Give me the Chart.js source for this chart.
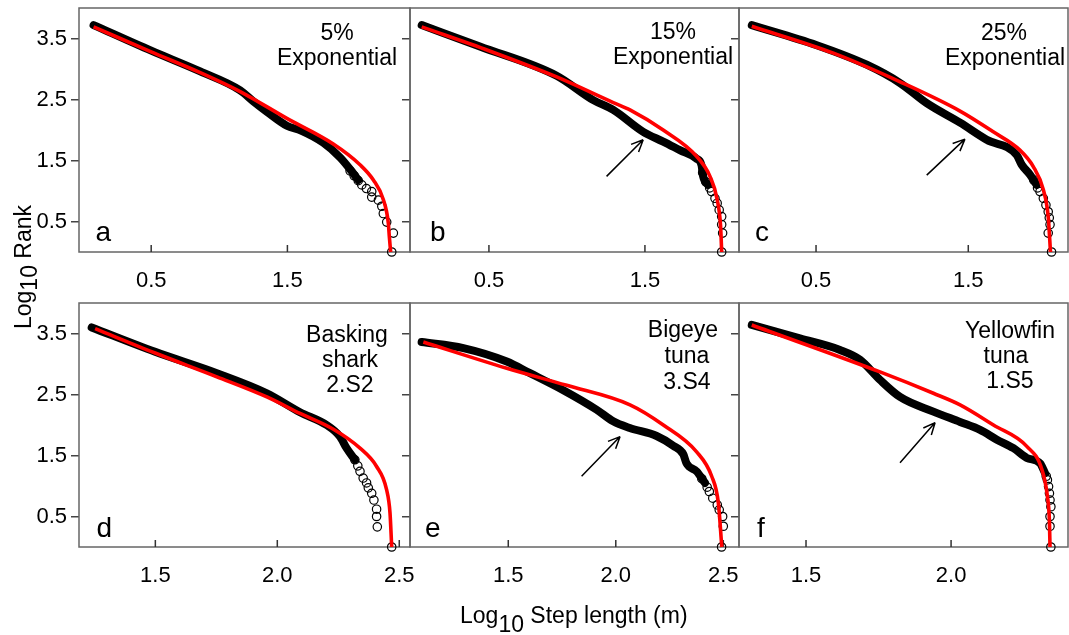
<!DOCTYPE html>
<html><head><meta charset="utf-8">
<script src="https://cdn.jsdelivr.net/npm/chart.js@4.4.1/dist/chart.umd.min.js"></script>
<style>
html,body{margin:0;padding:0;background:#fff;overflow:hidden;width:1069px;height:635px;position:relative;}
canvas{position:absolute;}
.t{position:absolute;font-family:"Liberation Sans",Arial,sans-serif;color:#000;white-space:nowrap;}
</style></head><body>
<script>
// ---- data (x = log10 step length, y = log10 rank) ----
const fitA  = [[0.077,3.69],[0.50,3.28],[0.86,2.94],[1.153,2.63],[1.496,2.19],[1.837,1.77],[2.033,1.43],[2.131,1.18],[2.204,0.86],[2.241,0.47],[2.248,0.26],[2.258,0.0]];
const obsA  = [[0.077,3.72],[0.50,3.30],[0.86,2.96],[1.153,2.65],[1.25,2.47],[1.349,2.30],[1.496,2.07],[1.60,1.99],[1.764,1.79],[1.887,1.55],[1.98,1.30],[2.02,1.18]];
const tailA = [[1.96,1.33],[1.99,1.25],[2.02,1.17],[2.046,1.10],[2.08,1.04],[2.119,0.99],[2.119,0.90],[2.168,0.85],[2.193,0.75],[2.204,0.63],[2.229,0.49],[2.278,0.31],[2.266,0.0]];

const fitB  = [[0.069,3.69],[0.50,3.30],[0.934,2.87],[1.297,2.45],[1.404,2.33],[1.617,2.00],[1.831,1.57],[1.917,1.24],[1.963,0.86],[1.985,0.42],[1.992,0.0]];
const obsB  = [[0.069,3.72],[0.442,3.37],[0.934,2.89],[1.169,2.49],[1.297,2.33],[1.489,1.97],[1.617,1.81],[1.724,1.67],[1.831,1.53],[1.863,1.42],[1.873,1.24],[1.905,1.10]];
const tailB = [[1.87,1.30],[1.89,1.15],[1.915,1.05],[1.927,0.99],[1.949,0.88],[1.963,0.80],[1.976,0.69],[1.992,0.58],[1.992,0.45],[1.998,0.31],[1.992,0.0]];

const fitC  = [[0.078,3.70],[0.614,3.26],[1.052,2.79],[1.446,2.31],[1.664,1.97],[1.839,1.67],[1.927,1.40],[1.993,1.02],[2.025,0.58],[2.04,0.0]];
const obsC  = [[0.078,3.72],[0.505,3.39],[0.833,3.07],[1.052,2.77],[1.227,2.44],[1.446,2.12],[1.621,1.84],[1.818,1.59],[1.851,1.43],[1.905,1.27],[1.949,1.10]];
const tailC = [[1.93,1.18],[1.955,1.05],[1.971,0.99],[1.993,0.88],[2.010,0.77],[2.025,0.66],[2.032,0.56],[2.037,0.45],[2.025,0.31],[2.047,0.0]];

const fitD  = [[1.253,3.58],[1.499,3.18],[1.752,2.79],[1.957,2.46],[2.093,2.19],[2.230,1.93],[2.339,1.62],[2.407,1.32],[2.448,0.94],[2.462,0.56],[2.469,0.0]];
const obsD  = [[1.239,3.60],[1.499,3.20],[1.752,2.85],[1.957,2.52],[2.093,2.21],[2.202,2.00],[2.257,1.81],[2.284,1.62],[2.318,1.43]];
const tailD = [[2.318,1.43],[2.33,1.33],[2.339,1.24],[2.352,1.13],[2.366,1.05],[2.373,0.97],[2.387,0.88],[2.396,0.77],[2.407,0.62],[2.407,0.50],[2.410,0.33],[2.469,0.0]];

const fitE  = [[1.105,3.36],[1.493,2.93],[1.772,2.65],[2.066,2.33],[2.221,2.00],[2.376,1.56],[2.446,1.16],[2.477,0.72],[2.493,0.0]];
const obsE  = [[1.097,3.36],[1.291,3.26],[1.493,3.04],[1.601,2.85],[1.756,2.57],[1.911,2.25],[1.988,2.06],[2.065,1.95],[2.190,1.82],[2.267,1.66],[2.314,1.52],[2.329,1.37],[2.376,1.24],[2.415,1.05]];
const tailE = [[2.40,1.12],[2.425,0.98],[2.435,0.91],[2.451,0.80],[2.472,0.69],[2.481,0.61],[2.497,0.50],[2.500,0.34],[2.492,0.0]];

const fitF  = [[1.313,3.64],[1.755,2.87],[1.939,2.52],[2.031,2.33],[2.146,2.00],[2.261,1.65],[2.313,1.27],[2.332,0.83],[2.339,0.42],[2.341,0.0]];
const obsF  = [[1.313,3.64],[1.479,3.42],[1.617,3.23],[1.686,3.07],[1.755,2.74],[1.824,2.46],[1.939,2.22],[2.031,2.05],[2.100,1.92],[2.158,1.76],[2.215,1.62],[2.261,1.46],[2.307,1.37],[2.324,1.21]];
const tailF = [[2.328,1.16],[2.332,1.10],[2.336,0.99],[2.339,0.88],[2.341,0.77],[2.344,0.66],[2.341,0.50],[2.341,0.34],[2.344,0.0]];

// arrows (data units: [tail],[tip])
const arrowB = [[1.254,1.24],[1.489,1.84]];
const arrowC = [[1.227,1.26],[1.478,1.85]];
const arrowE = [[1.841,1.16],[2.020,1.81]];
const arrowF = [[1.824,1.38],[1.945,2.04]];

// tick values
const yTickValues = [0.5,1.5,2.5,3.5];
const xTicksTop = [0.5,1.5];
const xTicksD = [1.5,2.0,2.5];
const xTicksE = [1.5,2.0,2.5];
const xTicksF = [1.5,2.0];

// panel labels / annotations
const textA = ['5%','Exponential'];
const textB = ['15%','Exponential'];
const textC = ['25%','Exponential'];
const textD = ['Basking','shark','2.S2'];
const textE = ['Bigeye','tuna','3.S4'];
const textF = ['Yellowfin','tuna','1.S5'];
const yTitle = 'Log<span style="position:relative;top:6px">10</span> Rank';
const xTitle = 'Log<span style="position:relative;top:9px">10</span> Step length (m)';

const FONT = '"Liberation Sans", Arial, sans-serif';

const panels = [
 {left:79,  top:8,   w:331, xmin:-0.03,  xmax:2.40,  xt:xTicksTop, obs:obsA, tail:tailA, fit:fitA, arrow:null,   yLabels:true,  letter:'a', lpos:[95.5,216.3], text:textA, tpos:[[337,33],[337,58]]},
 {left:410, top:8,   w:329, xmin:-0.006, xmax:2.103, xt:xTicksTop, obs:obsB, tail:tailB, fit:fitB, arrow:arrowB, yLabels:false, letter:'b', lpos:[430,216.3],  text:textB, tpos:[[673,32],[673,57]]},
 {left:739, top:8,   w:329, xmin:-0.006, xmax:2.155, xt:xTicksTop, obs:obsC, tail:tailC, fit:fitC, arrow:arrowC, yLabels:false, letter:'c', lpos:[755,216.3],  text:textC, tpos:[[1004,33],[1005,58]]},
 {left:79,  top:303, w:331, xmin:1.187,  xmax:2.544, xt:xTicksD,   obs:obsD, tail:tailD, fit:fitD, arrow:null,   yLabels:true,  letter:'d', lpos:[96.5,512.3], text:textD, tpos:[[347,335],[350,360],[350,385]]},
 {left:410, top:303, w:329, xmin:1.043,  xmax:2.573, xt:xTicksE,   obs:obsE, tail:tailE, fit:fitE, arrow:arrowE, yLabels:false, letter:'e', lpos:[425,512.3],  text:textE, tpos:[[683,330],[687,356],[687,382]]},
 {left:739, top:303, w:329, xmin:1.269,  xmax:2.403, xt:xTicksF,   obs:obsF, tail:tailF, fit:fitF, arrow:arrowF, yLabels:false, letter:'f', lpos:[757,512.3],  text:textF, tpos:[[1010,331],[1006,356],[1010,381]]}
];

const framePlugin = {
  id:'frame',
  beforeDatasetsDraw(chart){
    const ctx = chart.ctx, a = chart.chartArea, x = chart.scales.x;
    ctx.save();
    ctx.strokeStyle = '#666'; ctx.lineWidth = 1.5;
    ctx.strokeRect(a.left, a.top, a.right - a.left, a.bottom - a.top);
    ctx.beginPath();
    for (const t of x.ticks) {
      const px = x.getPixelForValue(t.value);
      ctx.moveTo(px, a.bottom); ctx.lineTo(px, a.bottom - 7);
    }
    ctx.strokeStyle = '#333';
    ctx.stroke();
    ctx.restore();
  },
  afterDatasetsDraw(chart, args, opts){
    const arrow = opts.arrow;
    if (!arrow) return;
    const ctx = chart.ctx, x = chart.scales.x, y = chart.scales.y;
    const x0 = x.getPixelForValue(arrow[0][0]), y0 = y.getPixelForValue(arrow[0][1]);
    const x1 = x.getPixelForValue(arrow[1][0]), y1 = y.getPixelForValue(arrow[1][1]);
    const ang = Math.atan2(y1 - y0, x1 - x0);
    ctx.save();
    ctx.strokeStyle = '#000'; ctx.lineWidth = 1.5;
    ctx.beginPath();
    ctx.moveTo(x0, y0); ctx.lineTo(x1, y1);
    for (const s of [-1, 1]) {
      ctx.moveTo(x1, y1);
      ctx.lineTo(x1 - 13 * Math.cos(ang + s * 0.42), y1 - 13 * Math.sin(ang + s * 0.42));
    }
    ctx.stroke();
    ctx.restore();
  }
};

const toXY = arr => arr.map(([x, y]) => ({x, y}));

function makeChart(p){
  const c = document.createElement('canvas');
  const W = p.w + 55, H = 294;
  c.width = W; c.height = H;
  c.style.left = (p.left - 45) + 'px'; c.style.top = (p.top - 10) + 'px';
  c.style.width = W + 'px'; c.style.height = H + 'px';
  document.body.appendChild(c);
  new Chart(c, {
    type:'line',
    data:{datasets:[
      {label:'fit', data:toXY(p.fit), borderColor:'#ff0000', borderWidth:3.6, pointRadius:0, cubicInterpolationMode:'monotone', fill:false, clip:false, order:0},
      {label:'observed', data:toXY(p.obs), borderColor:'#000', borderWidth:8, pointRadius:0, cubicInterpolationMode:'monotone', borderCapStyle:'round', borderJoinStyle:'round', fill:false, clip:false, order:1},
      {label:'observed tail', data:toXY(p.tail), showLine:false, pointRadius:4.2, pointBorderWidth:1.2, pointBorderColor:'#000', pointBackgroundColor:'rgba(0,0,0,0)', clip:false, order:2}
    ]},
    options:{
      responsive:false, animation:false, devicePixelRatio:1, events:[],
      layout:{padding:{top:10, right:10, left:0, bottom:0}},
      plugins:{legend:{display:false}, tooltip:{enabled:false}, frame:{arrow:p.arrow}},
      scales:{
        x:{type:'linear', min:p.xmin, max:p.xmax,
           grid:{display:false}, border:{display:false},
           afterBuildTicks: s => { s.ticks = p.xt.map(v => ({value:v})); },
           afterFit: s => { s.height = 40; s.paddingLeft = 0; s.paddingRight = 0; },
           ticks:{autoSkip:false, maxRotation:0, minRotation:0, padding:8, color:'#000', font:{family:FONT, size:22}, callback:v => Number(v).toFixed(1)}},
        y:{type:'linear', min:0, max:4,
           grid:{drawOnChartArea:false, drawTicks:true, tickLength:8, color:'#444', lineWidth:1.5}, border:{display:false},
           afterBuildTicks: s => { s.ticks = yTickValues.map(v => ({value:v})); },
           afterFit: s => { s.width = 45; s.paddingTop = 0; s.paddingBottom = 0; },
           ticks:{display:p.yLabels, padding:4, color:'#000', font:{family:FONT, size:22}, callback:v => Number(v).toFixed(1)}}
      }
    },
    plugins:[framePlugin]
  });
}

function addDiv(html, style){
  const d = document.createElement('div');
  d.className = 't';
  d.innerHTML = html;
  Object.assign(d.style, style);
  document.body.appendChild(d);
  return d;
}

for (const p of panels) {
  makeChart(p);
  p.text.forEach((s, i) => {
    const [cx, cy] = p.tpos[i];
    addDiv(s, {left:(cx - 100) + 'px', width:'200px', textAlign:'center', top:(cy - 12.6) + 'px', fontSize:'23px', lineHeight:'25px'});
  });
  addDiv(p.letter, {left:p.lpos[0] + 'px', top:p.lpos[1] + 'px', fontSize:'28px', lineHeight:'32px'});
}

addDiv(yTitle, {left:(23 - 100) + 'px', top:(267 - 15) + 'px', width:'200px', height:'30px', lineHeight:'30px', textAlign:'center', fontSize:'23px', transform:'rotate(-90deg)'});
addDiv(xTitle, {left:'460px', top:'600.3px', fontSize:'23px', lineHeight:'30px'});
</script>
</body></html>
